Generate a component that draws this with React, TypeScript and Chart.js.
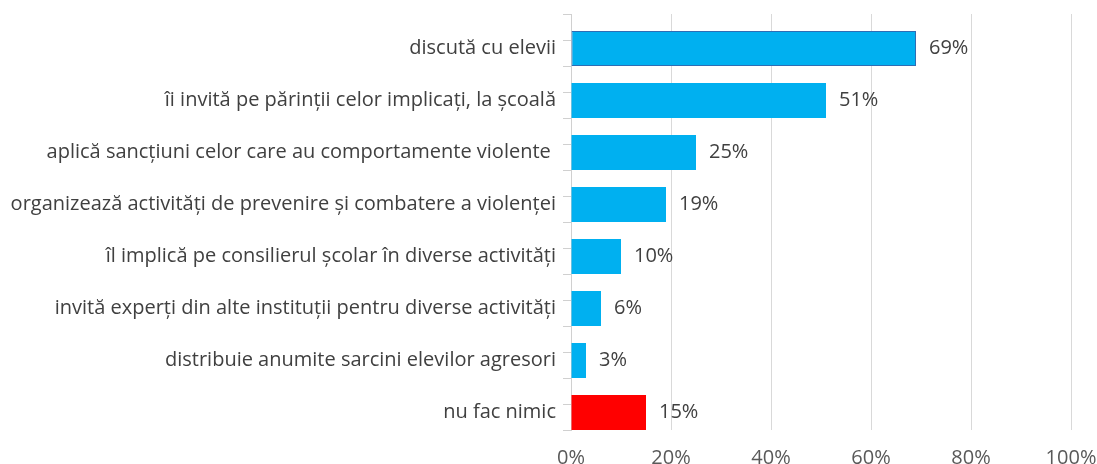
import React, { useEffect, useRef } from "react";
import { Chart, registerables } from "chart.js";
Chart.register(...registerables);

const categories = [
  "discută cu elevii",
  "îi invită pe părinții celor implicați, la școală",
  "aplică sancțiuni celor care au comportamente violente ",
  "organizează activități de prevenire și combatere a violenței",
  "îl implică pe consilierul școlar în diverse activități",
  "invită experți din alte instituții pentru diverse activități",
  "distribuie anumite sarcini elevilor agresori",
  "nu fac nimic",
];
const values = [69, 51, 25, 19, 10, 6, 3, 15];
const emptySeries = [null, null, null, null, null, null, null, null];
const barColors = ["#00B0F0", "#00B0F0", "#00B0F0", "#00B0F0", "#00B0F0", "#00B0F0", "#00B0F0", "#FF0000"];
const xTicks = [0, 20, 40, 60, 80, 100];

const FONT = "'Open Sans', 'Noto Sans', sans-serif";
const AXIS_COLOR = "#D0D0D0";

const labelPlugin = {
  id: "valueLabels",
  afterDatasetsDraw(chart: any) {
    const ctx = chart.ctx;
    const meta = chart.getDatasetMeta(1);
    ctx.save();
    ctx.font = `20px ${FONT}`;
    ctx.fillStyle = "#404040";
    ctx.textAlign = "left";
    ctx.textBaseline = "middle";
    meta.data.forEach((bar: any, i: number) => {
      ctx.fillText(values[i] + "%", bar.x + 13, bar.y);
    });
    ctx.restore();
  },
};

const minorTickPlugin = {
  id: "minorTicks",
  afterDraw(chart: any) {
    const ctx = chart.ctx;
    const ys = chart.scales.y;
    const left = chart.chartArea.left;
    ctx.save();
    ctx.strokeStyle = AXIS_COLOR;
    ctx.lineWidth = 1;
    ctx.beginPath();
    ys.ticks.forEach((_: any, i: number) => {
      const y = Math.round(ys.getPixelForTick(i)) + 0.5;
      ctx.moveTo(left - 8, y);
      ctx.lineTo(left, y);
    });
    ctx.stroke();
    ctx.restore();
  },
};

export default function App() {
  const ref = useRef<HTMLCanvasElement>(null);
  useEffect(() => {
    const chart = new Chart(ref.current!, {
      type: "bar",
      data: {
        labels: categories,
        datasets: [
          {
            data: emptySeries,
            backgroundColor: "transparent",
            categoryPercentage: 0.654,
            barPercentage: 2.06,
          },
          {
            data: values,
            backgroundColor: barColors,
            borderColor: ["#2E6DB4", "transparent", "transparent", "transparent", "transparent", "transparent", "transparent", "transparent"],
            borderWidth: [1, 0, 0, 0, 0, 0, 0, 0],
            borderSkipped: false,
            categoryPercentage: 0.654,
            barPercentage: 2.06,
          },
        ],
      },
      options: {
        indexAxis: "y",
        animation: false,
        responsive: false,
        maintainAspectRatio: false,
        layout: { padding: { top: 14, left: 0, right: 26, bottom: 0 } },
        plugins: { legend: { display: false }, tooltip: { enabled: false } },
        scales: {
          x: {
            min: 0,
            max: 100,
            afterBuildTicks: (s: any) => {
              s.ticks = xTicks.map((v) => ({ value: v }));
            },
            afterFit: (s: any) => {
              s.height = 34;
              s.paddingLeft = 0;
              s.paddingRight = 0;
              s.paddingTop = 0;
              s.paddingBottom = 0;
            },
            grid: { color: "#D9D9D9", drawTicks: false, lineWidth: 1 },
            border: { display: false },
            ticks: {
              color: "#595959",
              font: { family: FONT, size: 20 },
              padding: 16,
              callback: (v: any) => v + "%",
            },
          },
          y: {
            afterFit: (s: any) => {
              s.width = 571;
              s.paddingLeft = 0;
              s.paddingRight = 0;
              s.paddingTop = 0;
              s.paddingBottom = 0;
            },
            grid: {
              drawOnChartArea: false,
              drawTicks: true,
              tickLength: 8,
              color: AXIS_COLOR,
              offset: true,
            },
            border: { display: true, color: AXIS_COLOR },
            ticks: {
              color: "#404040",
              font: { family: FONT, size: 20 },
              padding: 7,
              labelOffset: 8.5,
            },
          },
        },
      },
      plugins: [labelPlugin, minorTickPlugin],
    });
    return () => chart.destroy();
  }, []);
  return (
    <div style={{ position: "fixed", left: 0, top: 0, width: 1097, height: 464, background: "#fff" }}>
      <canvas ref={ref} width={1097} height={464} style={{ display: "block" }} />
    </div>
  );
}
